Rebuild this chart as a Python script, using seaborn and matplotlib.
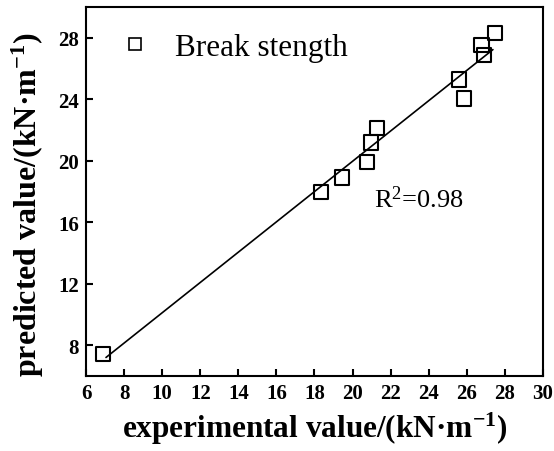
import numpy as np
import pandas as pd
import matplotlib
matplotlib.use("Agg")
import matplotlib.pyplot as plt
import seaborn as sns
from matplotlib.lines import Line2D

experimental = [6.9, 18.35, 19.46, 20.77, 20.98, 21.28, 25.6, 25.84, 26.77, 26.91, 27.47]
predicted = [7.45, 17.97, 18.91, 19.92, 21.18, 22.15, 25.28, 24.05, 27.55, 26.9, 28.31]
series_label = "Break stength"
r2_text = "R$^{\\mathregular{2}}$=0.98"
x_ticks = [6, 8, 10, 12, 14, 16, 18, 20, 22, 24, 26, 28, 30]
y_ticks = [8, 12, 16, 20, 24, 28]

sns.set_style("ticks")
plt.rcParams['font.family'] = ['Liberation Serif', 'DejaVu Serif']
plt.rcParams['mathtext.fontset'] = 'custom'
plt.rcParams['mathtext.rm'] = 'Liberation Serif'
plt.rcParams['mathtext.it'] = 'Liberation Serif:italic'
plt.rcParams['mathtext.bf'] = 'Liberation Serif:bold'
for key in ['text.color', 'axes.labelcolor', 'xtick.color', 'ytick.color', 'axes.edgecolor']:
    plt.rcParams[key] = 'black'

df = pd.DataFrame({"experimental": experimental, "predicted": predicted})

fig = plt.figure(figsize=(5.54, 4.52), dpi=100)
ax = fig.add_axes([86/554, 1-377/452, (543-86)/554, (377-8)/452])

slope, intercept = np.polyfit(df["experimental"], df["predicted"], 1)
xl = np.array([df["experimental"].min() + 0.15, df["experimental"].max() - 0.1])
line_df = pd.DataFrame({"x": xl, "y": slope * xl + intercept})
sns.lineplot(data=line_df, x="x", y="y", ax=ax, color="black", linewidth=1.2)

sns.scatterplot(data=df, x="experimental", y="predicted", ax=ax, marker="s", s=105,
                facecolors="none", edgecolor="black", linewidth=1.5, zorder=3)

ax.set_xlim(6, 30)
ax.set_ylim(6, 30)
ax.set_xticks(x_ticks)
ax.set_yticks(y_ticks)
ax.tick_params(direction="in", length=5, width=1.5, labelsize=15, pad=5, colors="black")
for lab in ax.get_xticklabels() + ax.get_yticklabels():
    lab.set_fontweight("bold")
for sp in ax.spines.values():
    sp.set_linewidth(1.5)
    sp.set_color("black")
    sp.set_visible(True)

ax.set_xlabel("experimental value/(kN·m$^{\\mathbf{-1}}$)", fontsize=22.5, fontweight="bold", labelpad=5)
ax.set_ylabel("predicted value/(kN·m$^{\\mathbf{-1}}$)", fontsize=23, fontweight="bold")
ax.yaxis.set_label_coords(-0.088, 0.466)

handle = Line2D([], [], marker="s", linestyle="none", markerfacecolor="none",
                markeredgecolor="black", markersize=8, markeredgewidth=1.2)
ax.legend([handle], [series_label], loc="upper left", frameon=False, fontsize=22.5,
          bbox_to_anchor=(0.011, 1.005), handlelength=1.0, handletextpad=0.8,
          labelcolor="black")

ax.text(21.1, 17.0, r2_text, fontsize=19, color="black")

fig.savefig("out.png", dpi=100)
